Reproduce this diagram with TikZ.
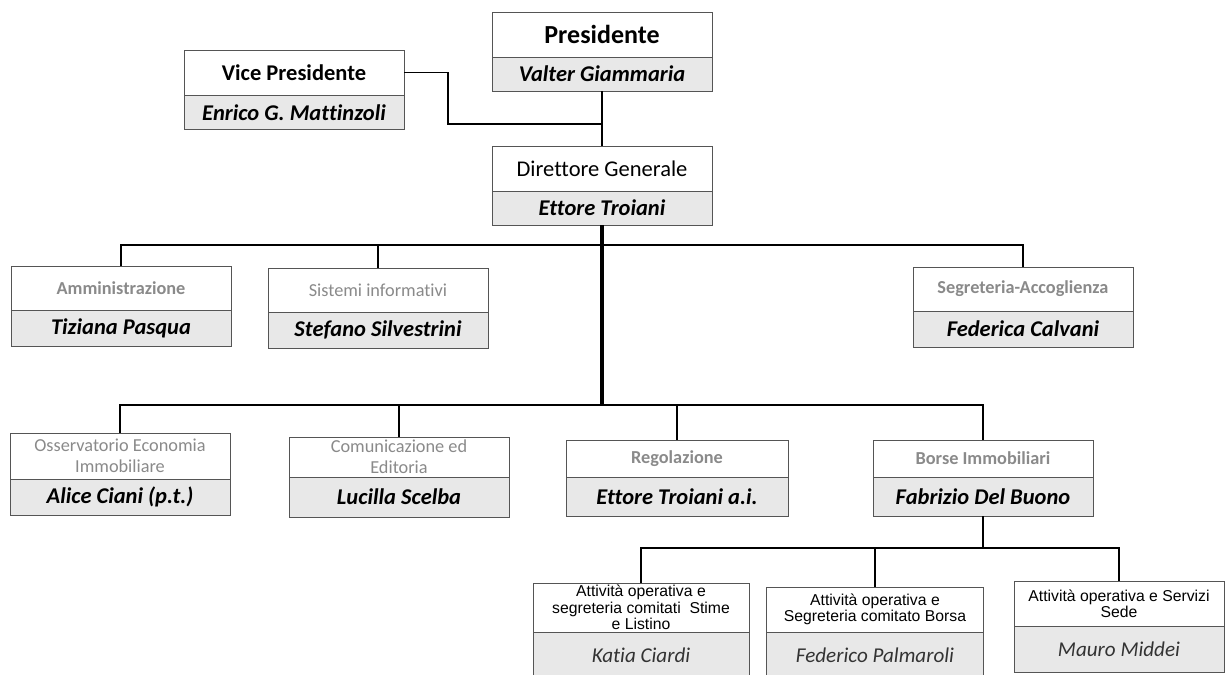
\documentclass[tikz,border=0pt]{standalone}
\usepackage{fontspec}
\setmainfont{Carlito}[Ligatures=NoCommon]
\newfontfamily\arialfont{Liberation Sans}
\usetikzlibrary{positioning}

\definecolor{boxline}{HTML}{555555}
\definecolor{namefill}{HTML}{E8E8E8}
\definecolor{unitgray}{HTML}{8A8A8A}

\tikzset{
  part/.style={draw=boxline, line width=0.6pt, outer sep=0pt, inner sep=1pt,
    minimum width=5.5cm, align=center, anchor=north},
  role/.style={part, fill=white, minimum height=1.125cm},
  holder/.style={part, fill=namefill, minimum height=0.86cm,
    font=\fontsize{16}{18}\selectfont\bfseries\itshape},
  unit/.style={role, text=unitgray, font=\fontsize{13}{15}\selectfont},
  office/.style={role, font=\arialfont\fontsize{11.2}{11.6}\selectfont},
  clerk/.style={part, fill=namefill, minimum height=1.15cm,
    text=black!80, font=\fontsize{15}{17}\selectfont\itshape},
  link/.style={line width=1.4pt},
  trunk/.style={line width=2.4pt},
}

\begin{document}
\begin{tikzpicture}[x=0.025cm, y=-0.025cm]
  \useasboundingbox (0,0) rectangle (1226,675);
  \clip (0,0) rectangle (1226,675);

  % vertici
  \node[role, font=\fontsize{18.5}{20}\selectfont\bfseries] (pres) at (602,12) {Presidente};
  \node[holder, minimum height=0.85cm] (presN) at (pres.south) {Valter Giammaria};

  \node[role, font=\fontsize{16}{18}\selectfont\bfseries] (vice) at (294,50) {Vice Presidente};
  \node[holder] (viceN) at (vice.south) {Enrico G. Mattinzoli};

  \node[role, font=\fontsize{16}{18}\selectfont] (dir) at (602,146) {Direttore Generale};
  \node[holder, minimum height=0.85cm] (dirN) at (dir.south) {Ettore Troiani};

  % staff
  \node[unit, minimum height=1.1cm, font=\fontsize{13}{15}\selectfont\bfseries] (admin) at (121,266) {Amministrazione};
  \node[holder, minimum height=0.9cm] (adminN) at (admin.south) {Tiziana Pasqua};

  \node[unit, minimum height=1.1cm] (sis) at (378,268) {Sistemi informativi};
  \node[holder, minimum height=0.9cm] (sisN) at (sis.south) {Stefano Silvestrini};

  \node[unit, minimum height=1.1cm, font=\fontsize{13}{15}\selectfont\bfseries] (segr) at (1023,267) {Segreteria-Accoglienza};
  \node[holder, minimum height=0.9cm] (segrN) at (segr.south) {Federica Calvani};

  % aree
  \node[unit, minimum height=1.15cm] (oss) at (120,433) {Osservatorio Economia\\Immobiliare};
  \node[holder, minimum height=0.9cm] (ossN) at (oss.south) {Alice Ciani (p.t.)};

  \node[unit, minimum height=1.0cm] (com) at (399,437) {Comunicazione ed\\Editoria};
  \node[holder, minimum height=1.0cm] (comN) at (com.south) {Lucilla Scelba};

  \node[unit, minimum height=0.925cm, minimum width=5.55cm, font=\fontsize{13}{15}\selectfont\bfseries] (reg) at (677,440) {Regolazione};
  \node[holder, minimum height=0.975cm, minimum width=5.55cm] (regN) at (reg.south) {Ettore Troiani a.i.};

  \node[unit, minimum height=0.925cm, font=\fontsize{13}{15}\selectfont\bfseries] (borse) at (983,440) {Borse Immobiliari};
  \node[holder, minimum height=0.975cm] (borseN) at (borse.south) {Fabrizio Del Buono};

  % uffici
  \node[office, minimum width=5.4cm, minimum height=1.225cm] (op1) at (641,583)
    {Attività operativa e\\segreteria comitati~ Stime\\e Listino};
  \node[clerk, minimum width=5.4cm] (op1N) at (op1.south) {Katia Ciardi};

  \node[office, minimum width=5.425cm] (op2) at (875,587)
    {Attività operativa e\\Segreteria comitato Borsa};
  \node[clerk, minimum width=5.425cm] (op2N) at (op2.south) {Federico Palmaroli};

  \node[office, minimum width=5.25cm] (op3) at (1119,581)
    {Attività operativa e Servizi\\Sede};
  \node[clerk, minimum width=5.25cm] (op3N) at (op3.south) {Mauro Middei};

  % collegamenti
  \coordinate (vjoin) at (602,124);
  \coordinate (vbend) at (448,124);
  \coordinate (row1) at (602,245);
  \coordinate (row2) at (602,405);
  \coordinate (row3) at (983,548);

  \draw[link] (presN.south) -- (dir.north);
  \draw[link] (vice.east) -| (vbend) -- (vjoin);

  \draw[trunk] (dirN.south) -- (row2);
  \draw[link] (admin.north) |- (row1) -| (segr.north);
  \draw[link] (sis.north) -- (sis.north |- row1);

  \draw[link] (oss.north) |- (row2) -| (borse.north);
  \draw[link] (com.north) -- (com.north |- row2);
  \draw[link] (reg.north) -- (reg.north |- row2);

  \draw[link] (borseN.south) -- (row3);
  \draw[link] (op1.north) |- (row3) -| (op3.north);
  \draw[link] (op2.north) -- (op2.north |- row3);
\end{tikzpicture}
\end{document}
